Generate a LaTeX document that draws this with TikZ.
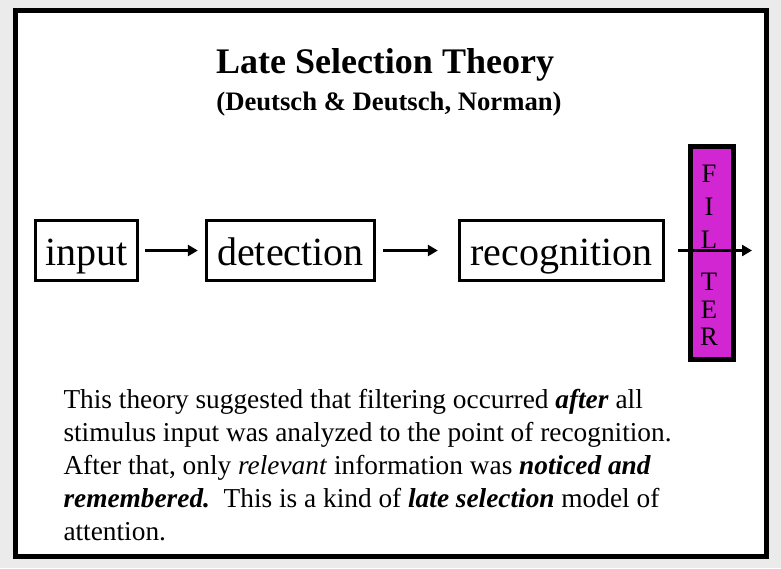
\documentclass[tikz,border=0pt]{standalone}
\usepackage{fontspec}
\setmainfont{Liberation Serif}
\usetikzlibrary{arrows.meta}
\definecolor{filterpink}{RGB}{211,38,211}
\definecolor{bggray}{RGB}{235,235,235}
\tikzset{every picture/.style={line width=0.75pt}}
\tikzset{
  stage/.style={draw, line width=2.5pt, minimum height=45pt, inner sep=0pt,
    text height=22pt, text depth=0pt, font=\fontsize{30}{36}\selectfont},
  flow/.style={line width=2.7pt, -{Triangle[length=7.5pt,width=8.25pt]}},
  letter/.style={anchor=base, inner sep=0pt, font=\fontsize{20}{24}\selectfont}
}

\begin{document}
\begin{tikzpicture}[x=0.75pt,y=0.75pt,yscale=-1,xscale=1]
\useasboundingbox (0,0) rectangle (781,568);

%Shape: Rectangle [background]
\fill [bggray] (0,0) rectangle (781,568);
%Shape: Rectangle [frame]
\draw [line width=3.75pt, fill=white] (15.5,10.5) rectangle (766.5,556.5);

% Text Node
\node (title) [anchor=base, inner sep=0pt, font=\fontsize{27}{32}\selectfont\bfseries] at (385,73) {Late Selection Theory};
% Text Node
\node (authors) [anchor=base, inner sep=0pt, font=\fontsize{20}{24}\selectfont\bfseries] at (389,110) {(Deutsch \& Deutsch, Norman)};

%Shape: Rectangle [stages]
\node (input) [stage, minimum width=76.5pt] at (86.5,250.5) {input};
\node (detection) [stage, minimum width=126pt] at (290.5,250.5) {detection};
\node (recognition) [stage, minimum width=153pt] at (561.5,250.5) {recognition};

%Shape: Rectangle [filter]
\node (filter) [draw, fill=filterpink, line width=3.75pt, minimum width=31.9pt, minimum height=159.75pt, inner sep=0pt] at (711.75,253) {};
\foreach \ch/\yy in {F/182,I/215,L/248,T/290,E/318,R/345}
  \node (f\ch) [letter] at (709,\yy) {\ch};

%Straight Lines
\draw [flow] ([xshift=4.5pt]input.east) -- ([xshift=-5.25pt]detection.west);
%Straight Lines
\draw [flow] ([xshift=5.25pt]detection.east) -- ([xshift=-15pt]recognition.west);
%Straight Lines
\coordinate (out) at (752,250.5);
\draw [flow] ([xshift=9.75pt]recognition.east) -- (out);

% Text Node (base = last line)
\node (note) [anchor=base west, align=left, inner sep=0pt, font=\fontsize{20.5}{24.75}\selectfont] at (63,540) {This theory suggested that filtering occurred \textbf{\textit{after}} all\\
stimulus input was analyzed to the point of recognition.\\
After that, only \textit{relevant} information was \textbf{\textit{noticed and}}\\
\textbf{\textit{remembered.}}\ \ This is a kind of \textbf{\textit{late selection}} model of\\
attention.};

\end{tikzpicture}
\end{document}
